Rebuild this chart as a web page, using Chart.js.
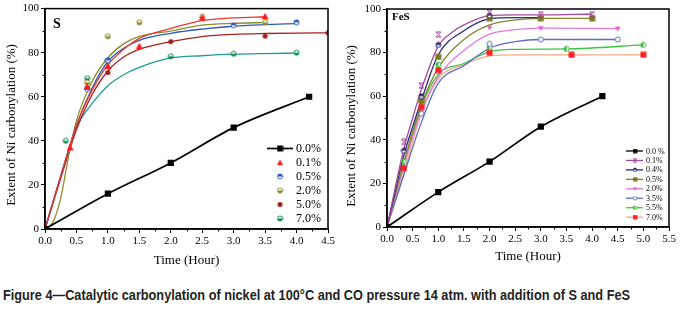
<!DOCTYPE html>
<html lang="en">
<head>
  <meta charset="UTF-8" />
  <title>Figure 4</title>
  <script src="https://cdn.jsdelivr.net/npm/chart.js"></script>
  <style>
    body { margin: 0; width: 684px; height: 310px; background: #fff; position: relative; overflow: hidden; }
    canvas { position: absolute; top: 0; }
    #graficoS { left: 0; }
    #graficoFeS { left: 340px; }
    #caption {
      position: absolute; left: 3px; top: 287px;
      font: bold 14px "Liberation Sans Narrow", "Arial Narrow", "Liberation Sans", Arial, sans-serif;
      color: #231f20; white-space: nowrap; transform-origin: 0 0;
    }
  </style>
</head>
<body>
<canvas id="graficoS" width="340" height="270"></canvas>
<canvas id="graficoFeS" width="344" height="270"></canvas>
<div id="caption">Figure 4&#8212;Catalytic carbonylation of nickel at 100°C and CO pressure 14 atm. with addition of S and FeS</div>

<script>
  // ---- S panel: measured points ----
  const sLabels = ["0.0%", "0.1%", "0.5%", "2.0%", "5.0%", "7.0%"];
  const sT00 = [0, 1, 2, 3, 4.2];              const sY00 = [0, 16, 30, 46, 60];
  const sT01 = [0.4, 0.67, 1, 1.5, 2.5, 3.5];  const sY01 = [37, 64.5, 74, 83, 96, 96.5];
  const sT05 = [0.67, 1, 3, 4];                const sY05 = [63.5, 76.5, 92.4, 93.8];
  const sT20 = [0.67, 1, 1.5, 2.5, 3.5];       const sY20 = [66.5, 87.5, 93.8, 96.3, 93.7];
  const sT50 = [0.67, 1, 2, 3.5, 4.5];         const sY50 = [64, 71, 85, 87.5, 89];
  const sT70 = [0.33, 0.67, 1, 2, 3, 4];       const sY70 = [40, 68.5, 76.5, 78.4, 79.5, 80];

  // ---- S panel: fitted curves ----
  const sFitT01 = [0, 0.25, 0.5, 0.75, 1, 1.25, 1.5, 2, 2.5, 3, 3.5];
  const sFitY01 = [0, 24, 47, 63, 74.5, 81.5, 86.5, 91, 94.5, 95.8, 96.3];
  const sFitT05 = [0, 0.25, 0.5, 0.75, 1, 1.25, 1.5, 2, 2.5, 3, 3.5, 4];
  const sFitY05 = [0, 24, 47, 64, 76, 82, 85.6, 88.8, 90.7, 92, 92.7, 93.2];
  const sFitT20 = [0, 0.125, 0.25, 0.375, 0.5, 0.75, 1, 1.25, 1.5, 2, 2.5, 3, 3.5];
  const sFitY20 = [0, 3, 14, 33, 49, 67, 77.7, 84, 87.4, 89.8, 92.5, 93.3, 93.7];
  const sFitT50 = [0, 0.25, 0.5, 0.75, 1, 1.25, 1.5, 2, 2.5, 3, 3.5, 4, 4.5];
  const sFitY50 = [0, 23, 45, 61, 71.7, 78, 81.5, 85, 87.3, 88.3, 88.7, 88.9, 89];
  const sFitT70 = [0, 0.25, 0.5, 0.75, 1, 1.25, 1.5, 2, 2.5, 3, 3.5, 4];
  const sFitY70 = [0, 24, 46, 57, 65, 70, 73.3, 77.6, 78.6, 79.3, 79.6, 79.8];

  // ---- FeS panel: measured points ----
  const fLabels = ["0.0 %", "0.1%", "0.4%", "0.5%", "2.0%", "3.5%", "5.5%", "7.0%"];
  const fT00 = [0, 1, 2, 3, 4.2];                const fY00 = [0, 16, 30, 46, 60];
  const fT01 = [0.33, 0.67, 1, 2, 3, 4];         const fY01 = [39, 64.8, 88.3, 98.3, 97.3, 97.7];
  const fT04 = [0.33, 0.67, 1, 2];               const fY04 = [35, 60, 83.5, 97];
  const fT05 = [0.67, 1, 2, 3, 4];               const fY05 = [58, 78, 95.7, 95.7, 95.7];
  const fT20 = [2, 3, 4.5];                      const fY20 = [91.5, 91.2, 91];
  const fT35 = [0.67, 2, 3, 4.5];                const fY35 = [52, 84, 86, 86];
  const fT55 = [0.33, 0.67, 1, 2, 3.5, 5];       const fY55 = [30, 58, 74.5, 82.5, 81.7, 83.5];
  const fT70 = [0, 0.33, 0.67, 1, 2, 3.6, 5];    const fY70 = [0, 27, 55, 72, 80, 79, 79];

  // ---- FeS panel: fitted curves ----
  const fFitT01 = [0, 0.33, 0.5, 0.67, 1, 1.25, 1.5, 2, 2.5, 3, 4];
  const fFitY01 = [0, 36, 50, 63, 83, 89, 92.7, 97, 97.3, 97.3, 97.7];
  const fFitT04 = [0, 0.33, 0.5, 0.67, 1, 1.5, 2, 2.5, 3];
  const fFitY04 = [0, 33, 46, 58, 79, 90, 95.5, 96, 96];
  const fFitT05 = [0, 0.33, 0.67, 1, 1.5, 2, 2.5, 3, 4];
  const fFitY05 = [0, 30, 56, 73, 86, 92.7, 95, 95.7, 95.7];
  const fFitT20 = [0, 0.33, 0.67, 1, 1.5, 2, 2.5, 3, 4.5];
  const fFitY20 = [0, 28, 53, 69, 81, 88.5, 90.5, 91.2, 91];
  const fFitT35 = [0, 0.33, 0.67, 1, 1.5, 2, 2.5, 3, 4.5];
  const fFitY35 = [0, 24, 48, 66, 74, 82, 85, 86, 86];
  const fFitT55 = [0, 0.33, 0.67, 1, 1.5, 2, 2.5, 3.5, 5];
  const fFitY55 = [0, 28, 55, 70, 75, 80.5, 81.5, 81.7, 83.5];
  const fFitT70 = [0, 0.33, 0.67, 1, 1.5, 2, 2.5, 3.6, 5];
  const fFitY70 = [0, 25, 52, 68, 74.5, 78.5, 79, 79, 79];

  const pts = (xs, ys) => xs.map((x, i) => ({ x: x, y: ys[i] }));
  const serif = '"Liberation Serif", "Times New Roman", serif';

  // small canvas markers (half filled circles etc.)
  function icono(tipo, color, size) {
    const c = document.createElement("canvas");
    c.width = c.height = size;
    const g = c.getContext("2d");
    const m = size / 2, r = size / 2 - 1;
    g.lineWidth = 1;
    g.strokeStyle = color;
    g.fillStyle = color;
    if (tipo === "tri") {
      g.beginPath(); g.moveTo(m, 0.5); g.lineTo(size - 0.5, size - 1); g.lineTo(0.5, size - 1); g.closePath(); g.fill();
    } else if (tipo === "triDown") {
      g.beginPath(); g.moveTo(0.5, 1.5); g.lineTo(size - 0.5, 1.5); g.lineTo(m, size - 0.5); g.closePath(); g.fill();
    } else if (tipo === "sq") {
      g.fillRect(0.5, 0.5, size - 1, size - 1);
    } else if (tipo === "ball") {
      g.beginPath(); g.arc(m, m, r, 0, Math.PI * 2); g.fill();
    } else if (tipo === "ring") {
      g.fillStyle = "#fff";
      g.beginPath(); g.arc(m, m, r, 0, Math.PI * 2); g.fill(); g.stroke();
    } else if (tipo === "xbox") {
      g.beginPath();
      g.moveTo(1, 1); g.lineTo(size - 1, size - 1);
      g.moveTo(size - 1, 1); g.lineTo(1, size - 1);
      g.moveTo(1, 1); g.lineTo(size - 1, 1);
      g.moveTo(1, size - 1); g.lineTo(size - 1, size - 1);
      g.stroke();
    } else {
      // half filled circles: top / bottom / left
      g.fillStyle = "#fff";
      g.beginPath(); g.arc(m, m, r, 0, Math.PI * 2); g.fill();
      g.fillStyle = color;
      g.beginPath();
      if (tipo === "top") g.arc(m, m, r, Math.PI, 0);
      else if (tipo === "bottom") g.arc(m, m, r, 0, Math.PI);
      else g.arc(m, m, r, Math.PI / 2, Math.PI * 1.5);
      g.closePath(); g.fill();
      g.beginPath(); g.arc(m, m, r, 0, Math.PI * 2); g.stroke();
    }
    return c;
  }

  // frame, minor ticks, y title, panel letter and legend
  const marco = {
    id: "marco",
    afterDraw(chart, args, o) {
      const { ctx, chartArea: a, scales } = chart;
      ctx.save();
      ctx.strokeStyle = "#000";
      ctx.lineWidth = 1.5;
      ctx.strokeRect(a.left, a.top, a.right - a.left, a.bottom - a.top);

      ctx.lineWidth = 1;
      ctx.beginPath();
      const sx = scales.x, sy = scales.y;
      for (let v = 0.25; v < sx.max; v += 0.5) {
        const px = Math.round(sx.getPixelForValue(v)) + 0.5;
        ctx.moveTo(px, a.bottom); ctx.lineTo(px, a.bottom + 2.5);
      }
      for (let v = 10; v < sy.max; v += 20) {
        const py = Math.round(sy.getPixelForValue(v)) + 0.5;
        ctx.moveTo(a.left, py); ctx.lineTo(a.left - 2.5, py);
      }
      ctx.stroke();

      // y axis title, sitting a little below the middle as in the original
      ctx.fillStyle = "#000";
      ctx.save();
      ctx.translate(12, o.yTitleY);
      ctx.rotate(-Math.PI / 2);
      ctx.font = "13px " + serif;
      ctx.textAlign = "center";
      ctx.textBaseline = "middle";
      ctx.fillText("Extent of Ni carbonylation (%)", 0, 0);
      ctx.restore();

      ctx.font = o.letterFont;
      ctx.textBaseline = "middle";
      ctx.fillText(o.letter, a.left + o.letterDx, a.top + o.letterDy);

      const L = o.legend;
      ctx.font = L.font;
      L.items.forEach((it, i) => {
        const y = L.y + i * L.step;
        if (it.line) {
          ctx.strokeStyle = it.line;
          ctx.lineWidth = L.lineWidth;
          ctx.beginPath(); ctx.moveTo(L.x1, y); ctx.lineTo(L.x2, y); ctx.stroke();
        }
        const s = L.iconSize;
        ctx.drawImage(it.icon, L.mx - s / 2, y - s / 2, s, s);
        ctx.fillStyle = "#000";
        ctx.fillText(it.label, L.tx, y + 0.5);
      });
      ctx.restore();
    }
  };

  function escalas(xMax, yW, xH, titleBottom) {
    return {
      x: {
        type: "linear", min: 0, max: xMax,
        ticks: { stepSize: 0.5, color: "#000", padding: 2, font: { family: serif, size: 11 },
                 callback: v => v.toFixed(1), maxRotation: 0 },
        grid: { drawOnChartArea: false, tickLength: 4, tickColor: "#000" },
        border: { color: "#000", width: 1.5 },
        title: { display: true, text: "Time (Hour)", color: "#000",
                 font: { family: serif, size: 13 }, padding: { top: 0, bottom: titleBottom } },
        afterFit: s => { s.height = xH; }
      },
      y: {
        min: 0, max: 100,
        ticks: { stepSize: 20, color: "#000", padding: 2, font: { family: serif, size: 11 } },
        grid: { drawOnChartArea: false, tickLength: 4, tickColor: "#000" },
        border: { color: "#000", width: 1.5 },
        title: { display: false },
        afterFit: s => { s.width = yW; }
      }
    };
  }

  const curva = (xs, ys, color) => ({
    data: pts(xs, ys), borderColor: color, borderWidth: 1.3, pointRadius: 0,
    cubicInterpolationMode: "monotone", fill: false
  });
  const marcas = (xs, ys, icon) => ({
    data: pts(xs, ys), showLine: false, pointStyle: icon, pointRadius: 4
  });
  const negra = (xs, ys) => ({
    data: pts(xs, ys), borderColor: "#000", backgroundColor: "#000", borderWidth: 1.7,
    cubicInterpolationMode: "monotone", pointStyle: "rect", pointRadius: 3.2
  });

  // ---------- S ----------
  const sIcons = [
    icono("sq", "#000", 7),
    icono("tri", "#ff1a1a", 8),
    icono("top", "#2f56c0", 7),
    icono("bottom", "#8c8a2a", 7),
    icono("ball", "#a51c1c", 7),
    icono("bottom", "#0c8a4c", 7)
  ];
  const sLines = ["#e83a2e", "#2d5ab8", "#8f8c2c", "#a82222", "#1d9a9a"];

  new Chart(document.getElementById("graficoS"), {
    type: "line",
    data: {
      datasets: [
        negra(sT00, sY00),
        marcas(sT01, sY01, sIcons[1]),
        marcas(sT05, sY05, sIcons[2]),
        marcas(sT20, sY20, sIcons[3]),
        marcas(sT50, sY50, sIcons[4]),
        marcas(sT70, sY70, sIcons[5]),
        curva(sFitT01, sFitY01, sLines[0]),
        curva(sFitT05, sFitY05, sLines[1]),
        curva(sFitT20, sFitY20, sLines[2]),
        curva(sFitT50, sFitY50, sLines[3]),
        curva(sFitT70, sFitY70, sLines[4])
      ]
    },
    options: {
      responsive: false, animation: false,
      layout: { padding: { top: 5, right: 12, left: 0, bottom: 0 } },
      scales: escalas(4.5, 45, 41, 2),
      plugins: {
        legend: { display: false }, tooltip: { enabled: false },
        marco: {
          yTitleY: 125, letter: "S", letterFont: "bold 14px " + serif, letterDx: 8, letterDy: 16,
          legend: {
            font: "12px " + serif, x1: 267, x2: 293, mx: 280, tx: 296, y: 148.5, step: 14,
            iconSize: 7, lineWidth: 1.7,
            items: sLabels.map((l, i) => ({ label: l, icon: sIcons[i], line: i === 0 ? "#000" : null }))
          }
        }
      }
    },
    plugins: [marco]
  });

  // ---------- FeS ----------
  const fColors = ["#000", "#9c3d94", "#22226e", "#7c7a1e", "#e064d2", "#5466c4", "#34bc34", "#ff2020"];
  const fLines  = ["#000", "#a54aa2", "#2a2a78", "#86842a", "#e47ad8", "#5a6cc4", "#3cc43c", "#f7a888"];
  const fIcons = [
    icono("sq", fColors[0], 6),
    icono("xbox", fColors[1], 7),
    icono("top", fColors[2], 7),
    icono("sq", fColors[3], 7),
    icono("triDown", fColors[4], 7),
    icono("ring", fColors[5], 7),
    icono("left", fColors[6], 7),
    icono("sq", fColors[7], 7)
  ];

  new Chart(document.getElementById("graficoFeS"), {
    type: "line",
    data: {
      datasets: [
        negra(fT00, fY00),
        marcas(fT01, fY01, fIcons[1]),
        marcas(fT04, fY04, fIcons[2]),
        marcas(fT05, fY05, fIcons[3]),
        marcas(fT20, fY20, fIcons[4]),
        marcas(fT35, fY35, fIcons[5]),
        marcas(fT55, fY55, fIcons[6]),
        marcas(fT70, fY70, fIcons[7]),
        curva(fFitT01, fFitY01, fLines[1]),
        curva(fFitT04, fFitY04, fLines[2]),
        curva(fFitT05, fFitY05, fLines[3]),
        curva(fFitT20, fFitY20, fLines[4]),
        curva(fFitT35, fFitY35, fLines[5]),
        curva(fFitT55, fFitY55, fLines[6]),
        curva(fFitT70, fFitY70, fLines[7])
      ]
    },
    options: {
      responsive: false, animation: false,
      layout: { padding: { top: 9, right: 15, left: 0, bottom: 0 } },
      scales: escalas(5.5, 47, 43, 5.5),
      plugins: {
        legend: { display: false }, tooltip: { enabled: false },
        marco: {
          yTitleY: 126, letter: "FeS", letterFont: "bold 11px " + serif, letterDx: 5, letterDy: 8,
          legend: {
            font: "8px " + serif, x1: 286, x2: 303, mx: 295, tx: 306, y: 151, step: 9.45,
            iconSize: 5, lineWidth: 1.3,
            items: fLabels.map((l, i) => ({ label: l, icon: fIcons[i], line: fLines[i] }))
          }
        }
      }
    },
    plugins: [marco]
  });

  // caption spans the width of the figure
  const cap = document.getElementById("caption");
  const w = cap.getBoundingClientRect().width;
  cap.style.transform = "scaleX(" + (627 / w) + ")";
</script>
</body>
</html>
